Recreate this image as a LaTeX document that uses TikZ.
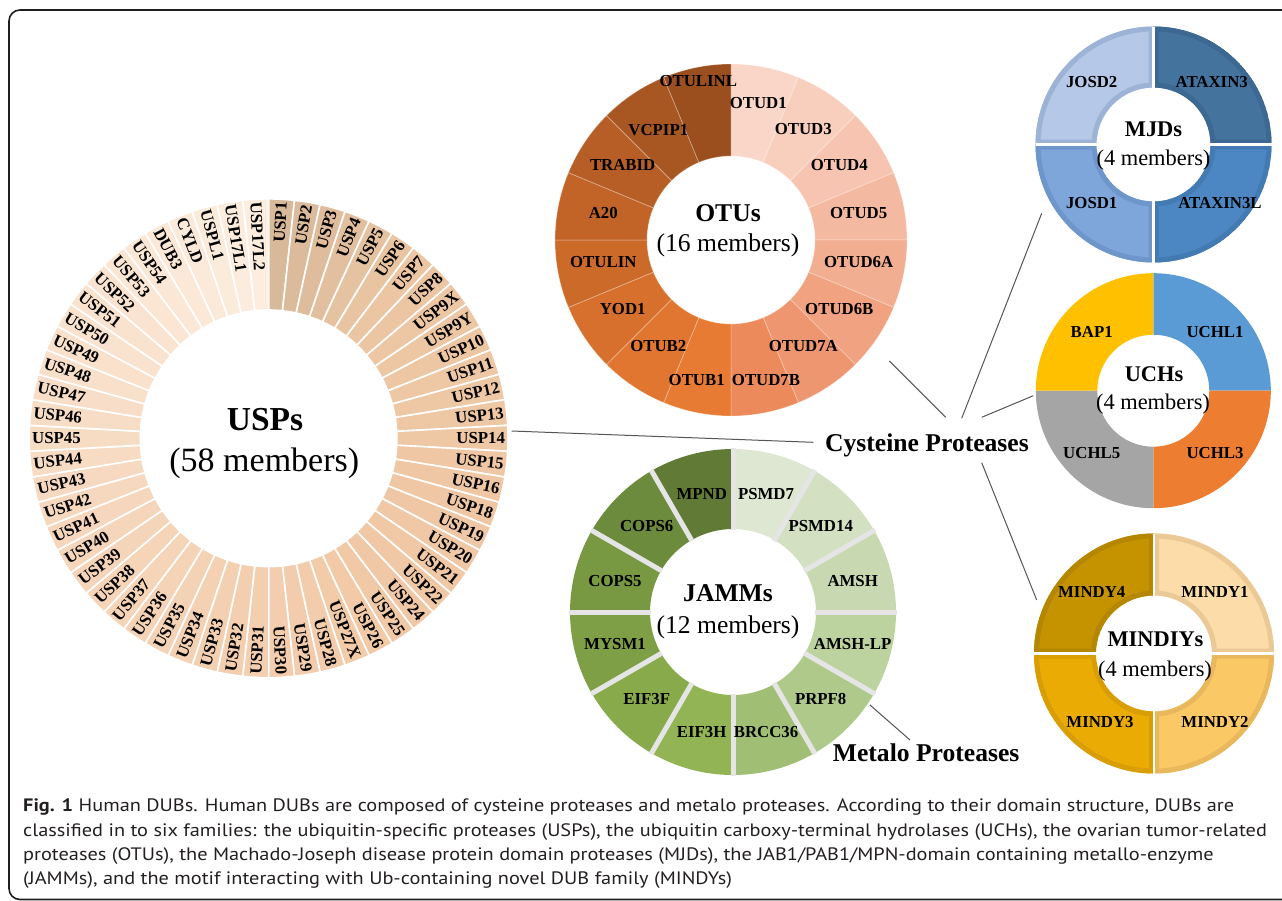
\documentclass[tikz,border=0pt]{standalone}
\usepackage{fontspec}
\setmainfont{Liberation Serif}
\newfontfamily\capfont{PT Sans}
\usepackage{graphicx}
% USP anchors
\definecolor{uA}{HTML}{D8B999}
\definecolor{uB}{HTML}{ECC6A3}
\definecolor{uC}{HTML}{F1C8A5}
\definecolor{uD}{HTML}{F6D8BE}
\definecolor{uE}{HTML}{FCEDDF}
% OTU
\definecolor{o0}{HTML}{F9D6C8}\definecolor{o1}{HTML}{F8CEBC}
\definecolor{o2}{HTML}{F6C4B0}\definecolor{o3}{HTML}{F4BAA1}
\definecolor{o4}{HTML}{F2AE91}\definecolor{o5}{HTML}{F0A281}
\definecolor{o6}{HTML}{EE9670}\definecolor{o7}{HTML}{EC8A5C}
\definecolor{o8}{HTML}{E77B33}\definecolor{o9}{HTML}{E0762F}
\definecolor{o10}{HTML}{D6702C}\definecolor{o11}{HTML}{CC6A2A}
\definecolor{o12}{HTML}{C26428}\definecolor{o13}{HTML}{B65E25}
\definecolor{o14}{HTML}{A85622}\definecolor{o15}{HTML}{9B4F1E}
% JAMM
\definecolor{j0}{HTML}{DEE7D1}\definecolor{j1}{HTML}{D3E0C1}
\definecolor{j2}{HTML}{C8D9B2}\definecolor{j3}{HTML}{BCD29F}
\definecolor{j4}{HTML}{AFC98B}\definecolor{j5}{HTML}{A0BF74}
\definecolor{j6}{HTML}{93B454}\definecolor{j7}{HTML}{88AA4B}
\definecolor{j8}{HTML}{7F9F46}\definecolor{j9}{HTML}{789842}
\definecolor{j10}{HTML}{6D8B3C}\definecolor{j11}{HTML}{617A35}
% MJD
\definecolor{mjA}{HTML}{44739E}\definecolor{mjAb}{HTML}{3D6892}
\definecolor{mjB}{HTML}{4C87C3}\definecolor{mjBb}{HTML}{437AB2}
\definecolor{mjC}{HTML}{7EA6DA}\definecolor{mjCb}{HTML}{6E96CA}
\definecolor{mjD}{HTML}{B5C8E7}\definecolor{mjDb}{HTML}{9CB3D6}
% UCH
\definecolor{ucA}{HTML}{5B9BD5}\definecolor{ucB}{HTML}{ED7D31}
\definecolor{ucC}{HTML}{A5A5A5}\definecolor{ucD}{HTML}{FFC000}
% MINDY
\definecolor{miA}{HTML}{FCDDAA}\definecolor{miAb}{HTML}{EBC996}
\definecolor{miB}{HTML}{FBC866}\definecolor{miBb}{HTML}{EAB85C}
\definecolor{miC}{HTML}{EAAC04}\definecolor{miCb}{HTML}{D99E05}
\definecolor{miD}{HTML}{C59300}\definecolor{miDb}{HTML}{B58700}
\definecolor{capc}{HTML}{231F20}
\definecolor{connc}{HTML}{555555}

% ring sector: options, center, inner r, outer R, angle1, angle2 (screen clockwise from east)
\newcommand\ringsec[6]{\path[#1] ([shift={(#2)}]#5:#4) arc[start angle=#5,end angle=#6,radius=#4] -- ([shift={(#2)}]#6:#3) arc[start angle=#6,end angle=#5,radius=#3] -- cycle;}
% quadrant with inner border
\newcommand\quadsec[6]{\begin{scope}\ringsec{clip}{#1}{#2}{#3}{#4}{#4+90}\ringsec{fill=#5,draw=#6,line width=10pt}{#1}{#2}{#3}{#4}{#4+90}\end{scope}}

\newlength\capw
\newcommand\capone{\textbf{Fig. 1} Human DUBs. Human DUBs are composed of cysteine proteases and metalo proteases. According to their domain structure, DUBs are}

\begin{document}
\settowidth\capw{\capfont\fontsize{18}{22}\selectfont\capone}%
\begin{tikzpicture}[x=1pt,y=-1pt,
  lbl/.style={font=\bfseries\fontsize{16.8}{18}\selectfont, inner sep=0pt, text=black},
  bigt/.style={font=\bfseries\fontsize{33.5}{36}\selectfont, inner sep=0pt, anchor=base},
  bigs/.style={font=\fontsize{34}{36}\selectfont, inner sep=0pt, anchor=base},
  midt/.style={font=\bfseries\fontsize{25.6}{28}\selectfont, inner sep=0pt, anchor=base},
  mids/.style={font=\fontsize{25.6}{28}\selectfont, inner sep=0pt, anchor=base},
  smlt/.style={font=\bfseries\fontsize{22.4}{24}\selectfont, inner sep=0pt, anchor=base},
  smls/.style={font=\fontsize{22.4}{24}\selectfont, inner sep=0pt, anchor=base},
  grp/.style={font=\bfseries\fontsize{25.6}{28}\selectfont, inner sep=0pt, anchor=base west},
  conn/.style={draw=connc, line width=1pt},
  capl/.style={anchor=base west, inner sep=0pt, text=capc}]
\useasboundingbox (0,0) rectangle (1282,900);

% frame
\draw[line width=1.6pt, black!88, rounded corners=11pt] (1300,899.5) -- (9,899.5) -- (9,10) -- (1300,10);

% ================= USPs =================
\foreach \lab [count=\i from 0] in {USP1,USP2,USP3,USP4,USP5,USP6,USP7,USP8,USP9X,USP9Y,USP10,USP11,USP12,USP13,USP14,USP15,USP16,USP18,USP19,USP20,USP21,USP22,USP24,USP25,USP26,USP27X,USP28,USP29,USP30,USP31,USP32,USP33,USP34,USP35,USP36,USP37,USP38,USP39,USP40,USP41,USP42,USP43,USP44,USP45,USP46,USP47,USP48,USP49,USP50,USP51,USP52,USP53,USP54,DUB3,CYLD,USPL1,USP17L1,USP17L2}{
  \pgfmathsetmacro\aa{-90+6.2069*\i}
  \pgfmathsetmacro\ab{-90+6.2069*(\i+1)}
  \pgfmathsetmacro\ac{-90+6.2069*(\i+0.5)}
  \ifnum\i<6
    \pgfmathtruncatemacro\p{100-100*\i/6}\colorlet{sc}{uA!\p!uB}%
  \else\ifnum\i<22
    \pgfmathtruncatemacro\p{100-100*(\i-6)/16}\colorlet{sc}{uB!\p!uC}%
  \else\ifnum\i<40
    \pgfmathtruncatemacro\p{100-100*(\i-22)/18}\colorlet{sc}{uC!\p!uD}%
  \else
    \pgfmathtruncatemacro\p{100-100*(\i-40)/17}\colorlet{sc}{uD!\p!uE}%
  \fi\fi\fi
  \ringsec{fill=sc,draw=white,line width=1.6pt}{268.6,438.3}{128.3}{239.4}{\aa}{\ab}
  \ifnum\i<29
    \pgfmathsetmacro\rot{0-(\ac)}
    \node[lbl, rotate=\rot, anchor=east] (u\i) at ([shift={(268.6,438.3)}]\ac:236.6) {\lab};
  \else
    \pgfmathsetmacro\rot{180-(\ac)}
    \node[lbl, rotate=\rot, anchor=west] (u\i) at ([shift={(268.6,438.3)}]\ac:236.6) {\lab};
  \fi
}
\node[bigt] (uspt) at (265,430.7) {USPs};
\node[bigs] (usps) at (264.3,471) {(58 members)};

% ================= OTUs =================
\foreach \c [count=\k from 0] in {o0,o1,o2,o3,o4,o5,o6,o7,o8,o9,o10,o11,o12,o13,o14,o15}{
  \pgfmathsetmacro\aa{-90+22.5*\k}
  \pgfmathsetmacro\ab{-90+22.5*(\k+1)}
  \ringsec{fill=\c,draw=white,draw opacity=0.3,line width=0.8pt}{731,240}{84}{176}{\aa}{\ab}
}
\node[lbl] (otulinl) at (698.3,80.7) {OTULINL};
\node[lbl] (otud1) at (758.3,103.3) {OTUD1};
\node[lbl] (otud3) at (803.3,129.3) {OTUD3};
\node[lbl] (otud4) at (839.3,165) {OTUD4};
\node[lbl] (vcpip1) at (658.3,130) {VCPIP1};
\node[lbl] (trabid) at (622.7,165) {TRABID};
\node[lbl] (a20) at (603.3,212.7) {A20};
\node[lbl] (otud5) at (858.7,212.7) {OTUD5};
\node[lbl] (otulin) at (603.3,261.7) {OTULIN};
\node[lbl] (otud6a) at (858.7,261.7) {OTUD6A};
\node[lbl] (yod1) at (622.7,309.3) {YOD1};
\node[lbl] (otud6b) at (839.3,309.3) {OTUD6B};
\node[lbl] (otub2) at (658.3,346) {OTUB2};
\node[lbl] (otud7a) at (803.3,346) {OTUD7A};
\node[lbl] (otub1) at (696.7,380) {OTUB1};
\node[lbl] (otud7b) at (766,380) {OTUD7B};
\node[midt] (otut) at (728,221.7) {OTUs};
\node[mids] (otus) at (728,251.7) {(16 members)};

% ================= JAMMs =================
\foreach \c [count=\k from 0] in {j0,j1,j2,j3,j4,j5,j6,j7,j8,j9,j10,j11}{
  \pgfmathsetmacro\aa{-90+30*\k}
  \pgfmathsetmacro\ab{-90+30*(\k+1)}
  \ringsec{fill=\c}{733,612}{83}{163}{\aa}{\ab}
}
\foreach \k in {0,...,11}{
  \pgfmathsetmacro\aa{-90+30*\k}
  \draw[white!90!black, line width=5pt] ([shift={(733,612)}]\aa:82) -- ([shift={(733,612)}]\aa:164);
}
\node[lbl] (mpnd) at (701.7,494) {MPND};
\node[lbl] (psmd7) at (766,494) {PSMD7};
\node[lbl] (cops6) at (646.7,526) {COPS6};
\node[lbl] (psmd14) at (820.7,526) {PSMD14};
\node[lbl] (cops5) at (615,580.7) {COPS5};
\node[lbl] (amsh) at (852.7,580.7) {AMSH};
\node[lbl] (mysm1) at (615,644) {MYSM1};
\node[lbl] (amshlp) at (852.7,644) {AMSH-LP};
\node[lbl] (eif3f) at (646.7,699.3) {EIF3F};
\node[lbl] (prpf8) at (820.7,699.3) {PRPF8};
\node[lbl] (eif3h) at (701.7,731.7) {EIF3H};
\node[lbl] (brcc36) at (766,731.7) {BRCC36};
\node[midt] (jamt) at (728,601.7) {JAMMs};
\node[mids] (jams) at (728,633.3) {(12 members)};

% ================= MJDs =================
\quadsec{1153.5,144.5}{57}{118}{-90}{mjA}{mjAb}
\quadsec{1153.5,144.5}{57}{118}{0}{mjB}{mjBb}
\quadsec{1153.5,144.5}{57}{118}{90}{mjC}{mjCb}
\quadsec{1153.5,144.5}{57}{118}{180}{mjD}{mjDb}
\draw[white, line width=2.6pt] (1153.5,26.5) -- (1153.5,262.5) (1035.5,144.5) -- (1271.5,144.5);
\node[lbl] (josd2) at (1091.7,81.7) {JOSD2};
\node[lbl] (ataxin3) at (1211.7,81.7) {ATAXIN3};
\node[lbl] (josd1) at (1091.7,202.7) {JOSD1};
\node[lbl] (ataxin3l) at (1220,202.7) {ATAXIN3L};
\node[smlt] (mjdt) at (1153.5,136.7) {MJDs};
\node[smls] (mjds) at (1153.5,165) {(4 members)};

% ================= UCHs =================
\ringsec{fill=ucA}{1153.3,390.7}{56}{117.5}{-90}{0}
\ringsec{fill=ucB}{1153.3,390.7}{56}{117.5}{0}{90}
\ringsec{fill=ucC}{1153.3,390.7}{56}{117.5}{90}{180}
\ringsec{fill=ucD}{1153.3,390.7}{56}{117.5}{180}{270}
\node[lbl] (bap1) at (1091.7,331.7) {BAP1};
\node[lbl] (uchl1) at (1215,331.7) {UCHL1};
\node[lbl] (uchl5) at (1091.7,453.3) {UCHL5};
\node[lbl] (uchl3) at (1215,453.3) {UCHL3};
\node[smlt] (ucht) at (1154,381.7) {UCHs};
\node[smls] (uchs) at (1153,409.3) {(4 members)};

% ================= MINDYs =================
\quadsec{1154,653.5}{58}{120}{-90}{miA}{miAb}
\quadsec{1154,653.5}{58}{120}{0}{miB}{miBb}
\quadsec{1154,653.5}{58}{120}{90}{miC}{miCb}
\quadsec{1154,653.5}{58}{120}{180}{miD}{miDb}
\draw[white, line width=2.6pt] (1154,533.5) -- (1154,773.5) (1034,653.5) -- (1274,653.5);
\node[lbl] (mindy4) at (1091.7,591.7) {MINDY4};
\node[lbl] (mindy1) at (1215,591.7) {MINDY1};
\node[lbl] (mindy3) at (1100,721.7) {MINDY3};
\node[lbl] (mindy2) at (1215,721.7) {MINDY2};
\node[smlt] (mint) at (1155.5,646.7) {MINDIYs};
\node[smls] (mins) at (1155,676) {(4 members)};

% ================= group labels & connectors =================
\node[grp] (cys) at (825,451) {Cysteine Proteases};
\node[grp] (met) at (832.7,761.5) {Metalo Proteases};

\coordinate (pUSP) at (511.7,431);
\coordinate (qUSP) at (813.3,442.3);
\coordinate (pOTU) at (889.3,361);
\coordinate (qOTU) at (945.7,417.3);
\coordinate (pMJD) at (1041.7,213.3);
\coordinate (qMJD) at (961.7,418.3);
\coordinate (pUCH) at (1033.3,395.7);
\coordinate (qUCH) at (981.7,417.3);
\coordinate (pMIN) at (1036.7,600);
\coordinate (qMIN) at (981.7,462.7);
\coordinate (pJAM) at (870,705);
\coordinate (qJAM) at (910,740);
\draw[conn] (pUSP) -- (qUSP);
\draw[conn] (pOTU) -- (qOTU);
\draw[conn] (pMJD) -- (qMJD);
\draw[conn] (pUCH) -- (qUCH);
\draw[conn] (pMIN) -- (qMIN);
\draw[conn] (pJAM) -- (qJAM);

% ================= caption =================
\pgfmathsetmacro\capsx{1211/\capw}
\node[capl] (cap1) at (23,811) {\scalebox{\capsx}[1]{\capfont\fontsize{18}{22}\selectfont\capone}};
\node[capl] (cap2) at (23,836) {\scalebox{\capsx}[1]{\capfont\fontsize{18}{22}\selectfont classified in to six families: the ubiquitin-specific proteases (USPs), the ubiquitin carboxy-terminal hydrolases (UCHs), the ovarian tumor-related}};
\node[capl] (cap3) at (23,860) {\scalebox{\capsx}[1]{\capfont\fontsize{18}{22}\selectfont proteases (OTUs), the Machado-Joseph disease protein domain proteases (MJDs), the JAB1/PAB1/MPN-domain containing metallo-enzyme}};
\node[capl] (cap4) at (23,884) {\scalebox{\capsx}[1]{\capfont\fontsize{18}{22}\selectfont (JAMMs), and the motif interacting with Ub-containing novel DUB family (MINDYs)}};
\end{tikzpicture}
\end{document}
